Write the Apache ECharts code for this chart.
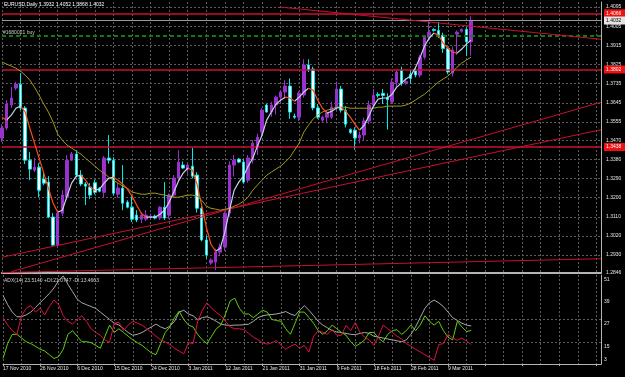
<!DOCTYPE html>
<html>
<head>
<meta charset="utf-8" />
<title>EURUSD Daily</title>
<script src="https://cdn.jsdelivr.net/npm/echarts@6/dist/echarts.min.js"></script>
<style>html,body{margin:0;background:#000;} #main{width:625px;height:377px;}</style>
</head>
<body>
<div id="main"></div>
<script type="text/javascript">
// labels under the ADX pane, one every 8 bars
var dateLabels = ['17 Nov 2010', '26 Nov 2010', '6 Dec 2010', '15 Dec 2010', '24 Dec 2010', '3 Jan 2011',
  '12 Jan 2011', '21 Jan 2011', '31 Jan 2011', '9 Feb 2011', '18 Feb 2011', '28 Feb 2011', '9 Mar 2011'];
var slotCount = 130; // bars + empty shift area on the right

var opens = [1.3480,1.3527,1.3635,1.3715,1.3733,1.3621,1.3376,1.3329,1.3343,1.3287,
  1.3273,1.3109,1.2977,1.3127,1.3202,1.3376,1.3405,1.3306,1.3264,1.3250,
  1.3270,1.3245,1.3225,1.3386,1.3376,1.3216,1.3245,1.3179,1.3155,1.3118,
  1.3099,1.3099,1.3109,1.3113,1.3104,1.3155,1.3118,1.3212,1.3292,1.3353,
  1.3334,1.3348,1.3306,1.3150,1.3001,1.2893,1.2898,1.2944,1.2968,1.3127,
  1.3353,1.3381,1.3367,1.3282,1.3376,1.3437,1.3508,1.3635,1.3602,1.3635,
  1.3672,1.3696,1.3724,1.3583,1.3578,1.3682,1.3823,1.3804,1.3621,1.3564,
  1.3578,1.3578,1.3625,1.3710,1.3611,1.3520,1.3517,1.3480,1.3494,1.3560,
  1.3635,1.3685,1.3690,1.3670,1.3650,1.3742,1.3799,1.3738,1.3780,1.3795,
  1.3776,1.3860,1.3954,1.3990,1.3985,1.3963,1.3900,1.3785,1.3968,1.3982,
  1.3990,1.3932];
var highs = [1.3545,1.3658,1.3719,1.3743,1.3785,1.3630,1.3414,1.3386,1.3362,1.3320,
  1.3301,1.3127,1.3141,1.3235,1.3400,1.3414,1.3423,1.3329,1.3273,1.3268,
  1.3285,1.3250,1.3395,1.3494,1.3390,1.3270,1.3353,1.3188,1.3212,1.3141,
  1.3130,1.3141,1.3125,1.3120,1.3160,1.3273,1.3220,1.3306,1.3423,1.3370,
  1.3360,1.3433,1.3320,1.3160,1.3020,1.2915,1.2960,1.2985,1.3135,1.3370,
  1.3400,1.3386,1.3380,1.3400,1.3470,1.3500,1.3620,1.3640,1.3650,1.3680,
  1.3700,1.3752,1.3760,1.3595,1.3700,1.3850,1.3850,1.3815,1.3640,1.3585,
  1.3610,1.3650,1.3745,1.3725,1.3630,1.3525,1.3530,1.3510,1.3575,1.3655,
  1.3710,1.3695,1.3710,1.3690,1.3760,1.3800,1.3815,1.3760,1.3800,1.3810,
  1.3870,1.3960,1.4035,1.3995,1.4025,1.3975,1.3910,1.3910,1.3985,1.3995,
  1.4000,1.4052];
var lows = [1.3461,1.3517,1.3621,1.3705,1.3611,1.3358,1.3282,1.3320,1.3203,1.3259,
  1.3104,1.2972,1.2968,1.3113,1.3188,1.3372,1.3296,1.3254,1.3165,1.3193,
  1.3215,1.3225,1.3200,1.3360,1.3212,1.3200,1.3141,1.3150,1.3085,1.3085,
  1.3080,1.3090,1.3100,1.3098,1.3095,1.3095,1.3100,1.3200,1.3280,1.3335,
  1.3310,1.3290,1.3130,1.2995,1.2915,1.2885,1.2860,1.2925,1.2950,1.3110,
  1.3300,1.3362,1.3265,1.3270,1.3360,1.3400,1.3490,1.3600,1.3580,1.3590,
  1.3640,1.3670,1.3570,1.3570,1.3560,1.3670,1.3790,1.3610,1.3570,1.3555,
  1.3550,1.3570,1.3610,1.3600,1.3530,1.3500,1.3425,1.3455,1.3470,1.3545,
  1.3620,1.3670,1.3640,1.3520,1.3640,1.3720,1.3725,1.3730,1.3735,1.3765,
  1.3765,1.3850,1.3935,1.3980,1.3950,1.3880,1.3780,1.3770,1.3870,1.3975,
  1.3865,1.3868];
var closes = [1.3527,1.3640,1.3668,1.3733,1.3621,1.3376,1.3334,1.3343,1.3235,1.3268,
  1.3109,1.2977,1.3127,1.3212,1.3376,1.3405,1.3306,1.3264,1.3254,1.3212,
  1.3225,1.3230,1.3386,1.3376,1.3221,1.3245,1.3174,1.3155,1.3099,1.3095,
  1.3118,1.3118,1.3113,1.3104,1.3155,1.3104,1.3212,1.3292,1.3367,1.3339,
  1.3353,1.3301,1.3150,1.3001,1.2930,1.2907,1.2944,1.2968,1.3127,1.3353,
  1.3376,1.3367,1.3273,1.3386,1.3456,1.3484,1.3611,1.3602,1.3635,1.3672,
  1.3696,1.3724,1.3602,1.3578,1.3691,1.3823,1.3799,1.3621,1.3578,1.3578,
  1.3597,1.3625,1.3710,1.3611,1.3545,1.3505,1.3480,1.3494,1.3560,1.3635,
  1.3680,1.3680,1.3680,1.3660,1.3742,1.3790,1.3738,1.3745,1.3760,1.3776,
  1.3860,1.3954,1.3977,1.3985,1.3963,1.3900,1.3790,1.3893,1.3977,1.3990,
  1.3932,1.4032];

var fastMA = [1.3578,1.3564,1.3588,1.3620,1.3630,1.3602,1.3526,1.3456,1.3385,1.3315,
  1.3244,1.3174,1.3132,1.3141,1.3207,1.3268,1.3301,1.3305,1.3282,1.3249,
  1.3235,1.3240,1.3268,1.3291,1.3296,1.3282,1.3263,1.3240,1.3207,1.3165,
  1.3127,1.3108,1.3108,1.3108,1.3122,1.3141,1.3179,1.3226,1.3277,1.3315,
  1.3338,1.3329,1.3263,1.3165,1.3061,1.2981,1.2948,1.2962,1.3038,1.3141,
  1.3235,1.3273,1.3301,1.3348,1.3385,1.3442,1.3493,1.3564,1.3602,1.3639,
  1.3658,1.3672,1.3668,1.3653,1.3672,1.3696,1.3714,1.3705,1.3658,1.3620,
  1.3597,1.3606,1.3620,1.3625,1.3606,1.3578,1.3545,1.3517,1.3540,1.3583,
  1.3630,1.3663,1.3668,1.3668,1.3686,1.3719,1.3738,1.3757,1.3771,1.3809,
  1.3856,1.3912,1.3950,1.3973,1.3964,1.3926,1.3902,1.3884,1.3879,1.3898,
  1.3921,1.3940];
var slowMA = [1.3837,1.3827,1.3818,1.3808,1.3794,1.3775,1.3752,1.3719,1.3681,1.3639,
  1.3602,1.3555,1.3498,1.3470,1.3447,1.3433,1.3418,1.3404,1.3385,1.3367,
  1.3348,1.3329,1.3315,1.3296,1.3282,1.3268,1.3254,1.3244,1.3226,1.3221,
  1.3216,1.3216,1.3221,1.3221,1.3216,1.3212,1.3207,1.3202,1.3202,1.3207,
  1.3212,1.3212,1.3207,1.3188,1.3160,1.3150,1.3146,1.3141,1.3146,1.3150,
  1.3160,1.3169,1.3183,1.3202,1.3235,1.3259,1.3282,1.3305,1.3320,1.3334,
  1.3348,1.3367,1.3390,1.3423,1.3456,1.3508,1.3540,1.3569,1.3588,1.3602,
  1.3611,1.3616,1.3625,1.3625,1.3625,1.3620,1.3620,1.3620,1.3620,1.3620,
  1.3620,1.3625,1.3625,1.3630,1.3630,1.3630,1.3630,1.3635,1.3644,1.3658,
  1.3672,1.3686,1.3705,1.3724,1.3743,1.3757,1.3771,1.3790,1.3813,1.3832,
  1.3846,1.3860];

var adx = [40,35,31,28.5,28.5,29.5,31,33.5,36,38.5,
  41,44,48,50.5,46,42,38,36,35,34,
  33,31,29,27,25,24,22,20,18.5,19,
  20,21.5,23,24.5,23,22,23.5,26,31,32,
  30,29,27,28,28.5,27.5,26,24.5,24,23.8,
  24,24,24.2,24.5,26,28,29,29.5,29.7,30,
  30.5,31.3,30,29.1,32,34.5,32,29,26,24,
  22.5,21,20.3,20,19.5,19,18.8,19.5,20,19.5,
  18,17.5,17,16.5,16,15.5,15,16,19,23,
  28,33,36,37.5,36,34,31,28,26.5,25,
  24,23.5];
var plusDI = [6,14,19,19,17,15,14,12.5,11,10,
  8,6,7,11,19,21,18,15,15,14.5,
  13,11.5,18,24,20,22,20,18,16,14.5,
  13,11,9,8,14,20,23,28,31.5,27,
  24,23,19,16,14,18,22,24,30,37,
  38.5,33,30,30,28,30,32,31,27,26.5,
  26,22,19,25,31,31,28,25,21,19,
  21,24,22,20,18.5,15,12.5,14,16,20,
  20,17,15,19,21,21.5,19,21,24,21,
  24,29,26,24,26,21,17.5,16,26,23,
  20.5,21.1];
var minusDI = [28,24,21,19,29,33,34.5,31,33,29.5,
  34,37.5,35,29,26,24.5,27,29,26,22,
  20,18.5,16,14.7,25,25.5,21,24,26,25,
  24,22,20,18,16,15,13.5,11.5,10,8.5,
  14.5,14,26,32,36,33,31,29,26,23,
  22,22,21.5,19.5,17.5,16,14.5,13.7,14.5,15.6,
  13,11,12.5,13.7,11.5,13,9.4,18,21,20,
  19,21.7,18.5,18.5,23.8,21,25.4,20,17.5,16,
  13,18,24,22,20,18,16.5,14,12.5,11,
  9.5,8,6.5,5,13.5,14,19,17,15.8,17,
  15.3,13.5];

var priceTicks = [1.4095,1.4005,1.3915,1.3825,1.3735,1.3645,1.3555,1.3470,1.3380,1.3290,1.3200,1.3110,1.3020,1.2930,1.2846];
var levelLines = [1.4066, 1.3802, 1.3438];
var bidPrice = 1.4032;
var orderPrice = 1.3959;
var orderName = '#1680021 buy';
// trend lines: [barIndex, price] pairs
var trendLines = [
  [[60, 1.4095], [129, 1.3944]],
  [[0, 1.2920], [129, 1.3519]],
  [[2, 1.2852], [129, 1.3648]],
  [[0, 1.2848], [129, 1.2913]]
];
var adxLevels = [27, 15];

var FONT = 'Liberation Sans';
var RED = '#c8102e';
var UP = '#c4d4e6', DOWN = '#ff4a14';

var cats = [];
for (var i = 0; i < slotCount; i++) {
  cats.push(i % 8 === 0 && i / 8 < dateLabels.length ? dateLabels[i / 8] : 'b' + i);
}
var candles = opens.map(function (o, i) { return [o, closes[i], lows[i], highs[i]]; });

// colour the fast MA by slope
var maPieces = [];
for (var k = 0; k < fastMA.length - 1; k++) {
  var c = fastMA[k + 1] >= fastMA[k] ? UP : DOWN;
  var last = maPieces[maPieces.length - 1];
  if (last && last.color === c) last.lte = k + 1;
  else maPieces.push({ gte: k, lte: k + 1, color: c });
}

// price-scale labels: kind 0 = grid level, 1 = red level box, 2 = bid box
var priceLabelItems = priceTicks.map(function (v) { return [0, v, 0]; })
  .concat(levelLines.map(function (v) { return [0, v, 1]; }))
  .concat([[0, bidPrice, 2]]);

var gridLine = { color: '#5c5c5c', type: [2, 2], width: 1 };

var levelMarks = levelLines.map(function (v) {
  return { yAxis: v, lineStyle: { color: RED, width: 1.5, type: 'solid' }, label: { show: false } };
});
levelMarks.push({ yAxis: bidPrice, lineStyle: { color: '#9a9a9a', width: 1, type: 'solid' }, label: { show: false } });
levelMarks.push({
  name: orderName, yAxis: orderPrice,
  lineStyle: { color: '#0b7d0b', width: 2, type: [4, 3] },
  label: { show: true, position: 'insideStartTop', formatter: '{b}', color: '#c8c8c8',
    fontFamily: FONT, fontSize: 5, distance: 1 }
});
trendLines.forEach(function (t) {
  levelMarks.push([
    { coord: t[0], lineStyle: { color: RED, width: 1, type: 'solid' }, label: { show: false } },
    { coord: t[1] }
  ]);
});

var chartDom = document.getElementById('main');
var myChart = echarts.init(chartDom);
var option = {
  backgroundColor: '#000',
  animation: false,
  title: [
    { text: 'EURUSD,Daily 1.3932 1.4052 1.3868 1.4032', left: 4, top: 2, padding: 0,
      textStyle: { color: '#fff', fontWeight: 'normal', fontFamily: FONT, fontSize: 5 } },
    { text: 'ADX(14) 23.5140 +DI:21.0747 -DI:13.4663', left: 4, top: 278, padding: 0,
      textStyle: { color: '#d0d0d0', fontWeight: 'normal', fontFamily: FONT, fontSize: 5 } }
  ],
  visualMap: {
    type: 'piecewise', show: false, dimension: 0, seriesIndex: 2, pieces: maPieces
  },
  grid: [
    { left: 2, right: 24, top: 2, height: 271 },
    { left: 2, right: 24, top: 275, height: 89 }
  ],
  xAxis: [
    { type: 'category', gridIndex: 0, data: cats, boundaryGap: false,
      axisLine: { show: true, onZero: false, lineStyle: { color: '#b4b4b4', width: 2 } },
      axisTick: { show: false }, axisLabel: { show: false },
      splitLine: { show: true, interval: 3, lineStyle: gridLine } },
    { type: 'category', gridIndex: 1, data: cats, boundaryGap: false,
      axisLine: { show: true, onZero: false, lineStyle: { color: '#b4b4b4' } },
      axisTick: { show: true, interval: 7, length: 2, lineStyle: { color: '#b4b4b4' } },
      axisLabel: { interval: 7, align: 'left', margin: 2, color: '#e6e6e6', fontFamily: FONT, fontSize: 5,
        formatter: function (v) { return dateLabels.indexOf(v) >= 0 ? v : ''; } },
      splitLine: { show: true, interval: 3, lineStyle: gridLine } }
  ],
  yAxis: [
    { type: 'value', gridIndex: 0, position: 'right', min: 1.2846, max: 1.4119,
      axisLine: { show: true, lineStyle: { color: '#b4b4b4' } },
      axisTick: { show: false }, axisLabel: { show: false }, splitLine: { show: false } },
    { type: 'value', gridIndex: 1, position: 'right', min: 3, max: 51, interval: 12,
      axisLine: { show: true, lineStyle: { color: '#b4b4b4' } },
      axisTick: { show: false }, splitLine: { show: false },
      axisLabel: { color: '#e6e6e6', fontFamily: FONT, fontSize: 5, margin: 3, verticalAlign: 'top',
        showMinLabel: false, padding: [2, 0, 0, 0] } }
  ],
  graphic: [
    { type: 'text', left: 604, top: 357, style: { text: '3', fill: '#e6e6e6', font: '5px ' + FONT } }
  ],
  series: [
    {
      name: 'EURUSD', type: 'candlestick', xAxisIndex: 0, yAxisIndex: 0, data: candles, barWidth: 3,
      itemStyle: { color: '#9932cc', borderColor: '#9932cc', color0: '#f4ffff', borderColor0: '#00e8e8', borderWidth: 1 },
      markLine: {
        silent: true, symbol: 'none', z: 1, precision: 4, lineStyle: gridLine, label: { show: false },
        data: priceTicks.slice(0, -1).map(function (v) { return { yAxis: v }; })
      }
    },
    {
      name: 'MA slow', type: 'line', xAxisIndex: 0, yAxisIndex: 0, data: slowMA, symbol: 'none',
      lineStyle: { color: '#a19a1c', width: 1 },
      markLine: { silent: true, symbol: 'none', z: 3, precision: 4, data: levelMarks }
    },
    {
      name: 'MA fast', type: 'line', xAxisIndex: 0, yAxisIndex: 0, data: fastMA, symbol: 'none',
      lineStyle: { width: 1.2 }
    },
    {
      name: 'ADX', type: 'line', xAxisIndex: 1, yAxisIndex: 1, data: adx, symbol: 'none',
      lineStyle: { color: '#a8a8a8', width: 1 },
      markLine: {
        silent: true, symbol: 'none', z: 1, precision: 4, lineStyle: gridLine, label: { show: false },
        data: adxLevels.map(function (v) { return { yAxis: v }; })
      }
    },
    {
      name: '+DI', type: 'line', xAxisIndex: 1, yAxisIndex: 1, data: plusDI, symbol: 'none',
      lineStyle: { color: '#5fcf0a', width: 1 }
    },
    {
      name: '-DI', type: 'line', xAxisIndex: 1, yAxisIndex: 1, data: minusDI, symbol: 'none',
      lineStyle: { color: '#e01040', width: 1 }
    },
    {
      name: 'price labels', type: 'custom', xAxisIndex: 0, yAxisIndex: 0, silent: true, clip: false, z: 10,
      data: priceLabelItems,
      renderItem: function (params, api) {
        var price = api.value(1);
        var kind = api.value(2);
        var y = api.coord([0, price])[1];
        var x = params.coordSys.x + params.coordSys.width + 3;
        var children = [];
        if (kind > 0) {
          children.push({ type: 'rect', shape: { x: x, y: y - 4, width: 21, height: 8 },
            style: { fill: kind === 1 ? '#ee1111' : '#e4e4e4' } });
        }
        children.push({ type: 'text', x: x + 2, y: y,
          style: { text: price.toFixed(4), fill: kind === 1 ? '#fff' : (kind === 2 ? '#000' : '#e6e6e6'),
            font: '5px ' + FONT, align: 'left', verticalAlign: 'middle' } });
        return { type: 'group', children: children };
      }
    }
  ]
};

option && myChart.setOption(option);
</script>
</body>
</html>
